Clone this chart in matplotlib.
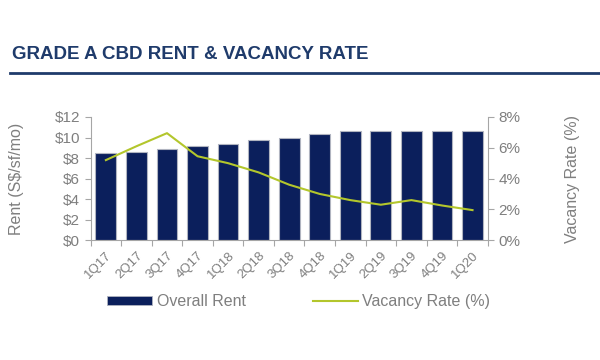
#!/usr/bin/env python3
"""Grade A CBD rent and vacancy rate, 1Q17 to 1Q20."""

import matplotlib.pyplot as plt
from matplotlib.lines import Line2D
from matplotlib.patches import Patch

quarters = ["1Q17", "2Q17", "3Q17", "4Q17", "1Q18", "2Q18", "3Q18",
            "4Q18", "1Q19", "2Q19", "3Q19", "4Q19", "1Q20"]
rent = [8.45, 8.6, 8.9, 9.2, 9.4, 9.72, 9.98,
        10.37, 10.62, 10.62, 10.65, 10.67, 10.6]
vacancy = [5.2, 6.1, 6.95, 5.45, 5.0, 4.4, 3.6,
           3.0, 2.6, 2.3, 2.6, 2.25, 1.95]

NAVY = "#0b1f5c"
GREEN = "#b3c62c"
GREY = "#7f7f7f"
SPINE = "#a6a6a6"


def main():
    fig = plt.figure(figsize=(6, 3.6), dpi=100)
    plt.rcParams["font.family"] = ["Liberation Sans", "DejaVu Sans"]

    # Title and rule.
    fig.text(0.02, 0.848, "GRADE A CBD RENT & VACANCY RATE",
             fontsize=13.5, fontweight="bold", color="#1f3b6b",
             va="center", ha="left")
    fig.add_artist(Line2D([0.017, 1.0], [0.798, 0.798],
                          color="#1f3b6b", linewidth=2))

    ax = fig.add_axes([0.151, 0.333, 0.662, 0.342])
    x = list(range(len(quarters)))
    ax.bar(x, rent, width=0.68, color=NAVY, edgecolor="#b0b4c0",
           linewidth=0.8, zorder=2)
    ax.set_xlim(-0.5, len(quarters) - 0.5)
    ax.set_ylim(0, 12)
    ax.set_yticks(range(0, 13, 2))
    ax.set_yticklabels(["$%d" % v for v in range(0, 13, 2)])
    ax.set_ylabel("Rent (S$/sf/mo)", fontsize=11.5, color=GREY, labelpad=22)

    ax.set_xticks([i - 0.5 for i in range(len(quarters) + 1)], minor=False)
    ax.set_xticklabels([])
    ax.set_xticks(x, minor=True)
    ax.set_xticklabels(quarters, minor=True, rotation=45, ha="right",
                       rotation_mode="anchor", fontsize=9.5, color=GREY)
    ax.tick_params(axis="x", which="minor", length=0, pad=7)
    ax.tick_params(axis="x", which="major", length=4, color=SPINE)
    ax.tick_params(axis="y", labelsize=11, labelcolor=GREY,
                   color=SPINE, length=4)

    ax2 = ax.twinx()
    ax2.plot(x, vacancy, color=GREEN, linewidth=1.5, zorder=3)
    ax2.set_ylim(0, 8)
    ax2.set_yticks(range(0, 9, 2))
    ax2.set_yticklabels(["%d%%" % v for v in range(0, 9, 2)])
    ax2.set_ylabel("Vacancy Rate (%)", fontsize=11.5, color=GREY, labelpad=32)
    ax2.tick_params(axis="y", labelsize=11, labelcolor=GREY,
                    color=SPINE, length=4)

    for a in (ax, ax2):
        a.spines["top"].set_visible(False)
        for s in ("left", "right", "bottom"):
            a.spines[s].set_color(SPINE)
    ax.spines["right"].set_visible(False)
    ax2.spines["left"].set_visible(False)
    ax2.spines["bottom"].set_visible(False)

    handles = [Patch(facecolor=NAVY, edgecolor="#b0b4c0", linewidth=0.6),
               Line2D([0], [0], color=GREEN, linewidth=1.5)]
    leg = fig.legend(handles, ["Overall Rent", "Vacancy Rate (%)"],
                     loc="center left", bbox_to_anchor=(0.155, 0.163),
                     ncol=2, frameon=False, fontsize=11.5,
                     handlelength=2.8, handleheight=0.5,
                     columnspacing=4.2, handletextpad=0.3)
    for t in leg.get_texts():
        t.set_color(GREY)

    plt.savefig("out.png", dpi=100)


if __name__ == '__main__':
    main()
